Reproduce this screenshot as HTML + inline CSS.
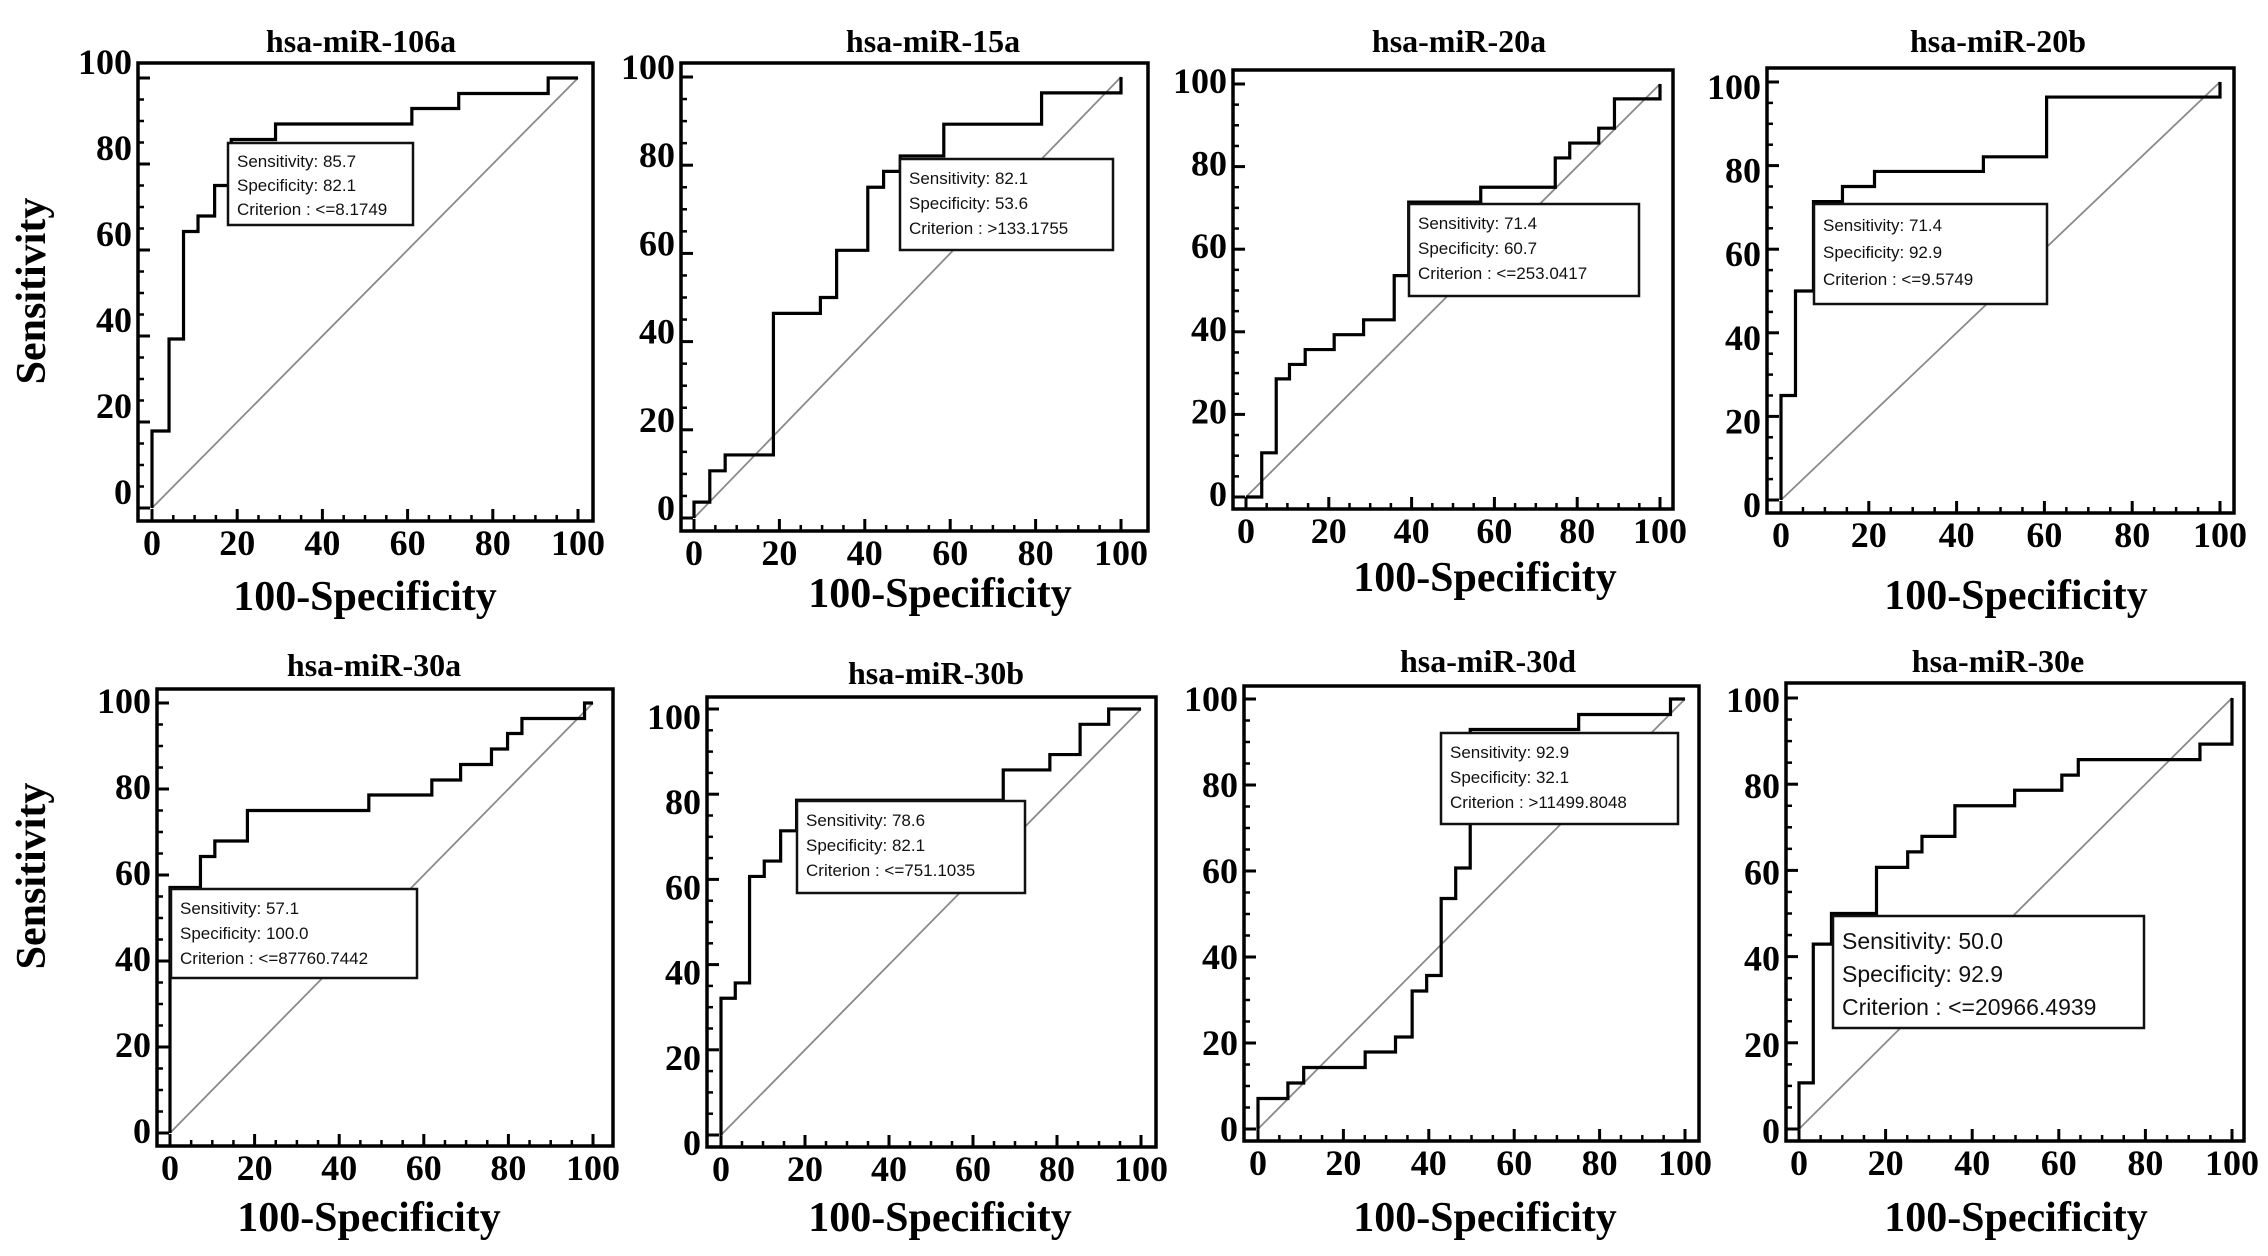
<!DOCTYPE html>
<html><head><meta charset="utf-8"><style>
html,body{margin:0;padding:0;background:#fff;}
svg{display:block;}
.t{font-family:"Liberation Serif",serif;font-weight:bold;fill:#000;}
.b{font-family:"Liberation Sans",sans-serif;fill:#111;}
</style></head><body>
<svg id="fig" width="2268" height="1256" viewBox="0 0 2268 1256"></svg>
<script>
const titles = ["hsa-miR-106a","hsa-miR-15a","hsa-miR-20a","hsa-miR-20b","hsa-miR-30a","hsa-miR-30b","hsa-miR-30d","hsa-miR-30e"];
const fpr106a = [0,4,7.4,10.8,14.7,18.6,29,61,72,93];
const sens106a = [17.9,39.3,64.3,67.9,75,85.7,89.3,92.9,96.4,100];
const fpr15a = [0,3.7,7.3,18.6,29.6,33.4,40.7,44.4,48.3,58.5,81.4,100];
const sens15a = [3.6,10.7,14.3,46.4,50,60.7,75,78.6,82.1,89.3,96.4,100];
const fpr20a = [3.8,7.3,10.5,14.3,21.3,28.4,35.8,39.3,56.7,74.7,78.2,85.2,89,100];
const sens20a = [10.7,28.6,32.1,35.7,39.3,42.9,53.6,71.4,75,82.1,85.7,89.3,96.4,100];
const fpr20b = [0,3.3,7.4,14,21.3,46.1,60.5,100];
const sens20b = [25,50,71.4,75,78.6,82.1,96.4,100];
const fpr30a = [0,7.2,10.6,18.3,47,61.9,68.7,76,79.8,83.2,98];
const sens30a = [57.1,64.3,67.9,75,78.6,82.1,85.7,89.3,92.9,96.4,100];
const fpr30b = [0,3.4,6.8,10.3,14.2,18,67.2,78.3,85.5,92.3];
const sens30b = [32.1,35.7,60.7,64.3,71.4,78.6,85.7,89.3,96.4,100];
const fpr30d = [0,7,10.7,25.1,32.2,36.1,39.5,42.9,46.3,49.7,75.1,96.6];
const sens30d = [7.1,10.7,14.3,17.9,21.4,32.1,35.7,53.6,60.7,92.9,96.4,100];
const fpr30e = [0,3.3,7.5,17.9,25.1,28.4,36,49.8,60.7,64.5,92.6,100];
const sens30e = [10.7,42.9,50,60.7,64.3,67.9,75,78.6,82.1,85.7,89.3,100];
const sensLabels = ["85.7","82.1","71.4","71.4","57.1","78.6","92.9","50.0"];
const specLabels = ["82.1","53.6","60.7","92.9","100.0","82.1","32.1","92.9"];
const critLabels = ["<=8.1749",">133.1755","<=253.0417","<=9.5749","<=87760.7442","<=751.1035",">11499.8048","<=20966.4939"];
const tickValues = [0,20,40,60,80,100];
const fprs=[fpr106a,fpr15a,fpr20a,fpr20b,fpr30a,fpr30b,fpr30d,fpr30e];
const senss=[sens106a,sens15a,sens20a,sens20b,sens30a,sens30b,sens30d,sens30e];
// layout: frame l,t,r,b ; x0,x100 ; y0,y100 ; title cx,y ; xtitle cx,y ; box l,t,r,b,font,lh ; ylabel offset
const L=[
 {l:138,t:63,r:593,b:521,x0:152,x1:578,y0:508,y1:78,tx:361,ty:52,xx:365,xy:610,bx:[228,143,413,225,17,24],yo:-16},
 {l:681,t:63,r:1148,b:531,x0:694,x1:1121,y0:518,y1:77,tx:933,ty:52,xx:940,xy:607,bx:[900,159,1113,250,17,25],yo:-10},
 {l:1233,t:70,r:1673,b:509,x0:1246,x1:1660,y0:497,y1:84,tx:1459,ty:52,xx:1485,xy:591,bx:[1409,204,1639,296,17,25],yo:-3},
 {l:1767,t:68,r:2234,b:513,x0:1781,x1:2220,y0:500,y1:82,tx:1998,ty:52,xx:2016,xy:609,bx:[1814,204,2047,304,17,27],yo:5},
 {l:157,t:689,r:613,b:1146,x0:170,x1:593,y0:1133,y1:703,tx:374,ty:676,xx:369,xy:1231,bx:[171,889,417,978,17,25],yo:-2},
 {l:707,t:697,r:1156,b:1147,x0:721,x1:1141,y0:1135,y1:709,tx:936,ty:684,xx:940,xy:1231,bx:[797,801,1025,893,17,25],yo:8},
 {l:1244,t:686,r:1699,b:1141,x0:1258,x1:1685,y0:1129,y1:699,tx:1488,ty:672,xx:1485,xy:1231,bx:[1441,733,1678,824,17,25],yo:0},
 {l:1786,t:683,r:2244,b:1141,x0:1799,x1:2232,y0:1129,y1:698,tx:1998,ty:672,xx:2016,xy:1231,bx:[1833,916,2144,1028,23,33],yo:2}
];
const svg=document.getElementById('fig');
const NS='http://www.w3.org/2000/svg';
function mk(tag,attrs,parent){const e=document.createElementNS(NS,tag);for(const k in attrs)e.setAttribute(k,attrs[k]);(parent||svg).appendChild(e);return e;}
// y-axis titles
[291,876].forEach((cy,i)=>{
 const t=mk('text',{x:0,y:0,class:'t','font-size':42,'text-anchor':'middle',transform:`translate(45,${cy}) rotate(-90)`});
 t.textContent='Sensitivity';
 
 
});
L.forEach((p,i)=>{
 const g=mk('g',{});
 
 
 const X=v=>p.x0+(p.x1-p.x0)*v/100;
 const Y=v=>p.y0+(p.y1-p.y0)*v/100;
 const tt=mk('text',{x:p.tx,y:p.ty,class:'t','font-size':32,'text-anchor':'middle'},g);
 tt.textContent=titles[i];
 
 
 // frame
 const fr=mk('rect',{x:p.l,y:p.t,width:p.r-p.l,height:p.b-p.t,fill:'none',stroke:'#000','stroke-width':3.5},g);
 
 
 // ticks
 for(let v=0;v<=100;v+=5){
  const maj=v%20===0, len=maj?12:6;
  mk('line',{x1:X(v),x2:X(v),y1:p.b,y2:p.b-len,stroke:'#000','stroke-width':maj?3:2.5},g);
  mk('line',{x1:p.l,x2:p.l+len,y1:Y(v),y2:Y(v),stroke:'#000','stroke-width':maj?3:2.5},g);
 }
 tickValues.forEach(v=>{
  const xt=mk('text',{x:X(v),y:p.b+34,class:'t','font-size':36,'text-anchor':'middle'},g);
  xt.textContent=v;
  
  
  const yt=mk('text',{x:p.l-6,y:Y(v)+p.yo+12,class:'t','font-size':36,'text-anchor':'end'},g);
  yt.textContent=v;
  
  
 });
 const xtl=mk('text',{x:p.xx,y:p.xy,class:'t','font-size':42,'text-anchor':'middle'},g);
 xtl.textContent='100-Specificity';
 
 
 // diagonal
 const dg=mk('line',{x1:X(0),y1:Y(0),x2:X(100),y2:Y(100),stroke:'#8a8a8a','stroke-width':1.8},g);
 
 
 // ROC step curve
 const f=fprs[i], s=senss[i];
 let pts=[[X(0),Y(0)]], prev=0;
 for(let k=0;k<f.length;k++){pts.push([X(f[k]),Y(prev)]);pts.push([X(f[k]),Y(s[k])]);prev=s[k];}
 pts.push([X(100),Y(prev)]);
 const pl=mk('polyline',{points:pts.map(q=>q.join(',')).join(' '),fill:'none',stroke:'#000','stroke-width':3.2},g);
 
 
 // annotation box
 const [bl,bt,br,bb,fs,lh]=p.bx;
 const bg=mk('g',{},g);
 
 
 mk('rect',{x:bl,y:bt,width:br-bl,height:bb-bt,fill:'#fff',stroke:'#111','stroke-width':2.5},bg);
 const lines=['Sensitivity: '+sensLabels[i],'Specificity: '+specLabels[i],'Criterion : '+critLabels[i]];
 lines.forEach((ln,k)=>{
  const te=mk('text',{x:bl+9,y:bt+lh+k*lh-(fs>20?0:0),class:'b','font-size':fs},bg);
  te.textContent=ln;
 });
});
</script>
</body></html>
